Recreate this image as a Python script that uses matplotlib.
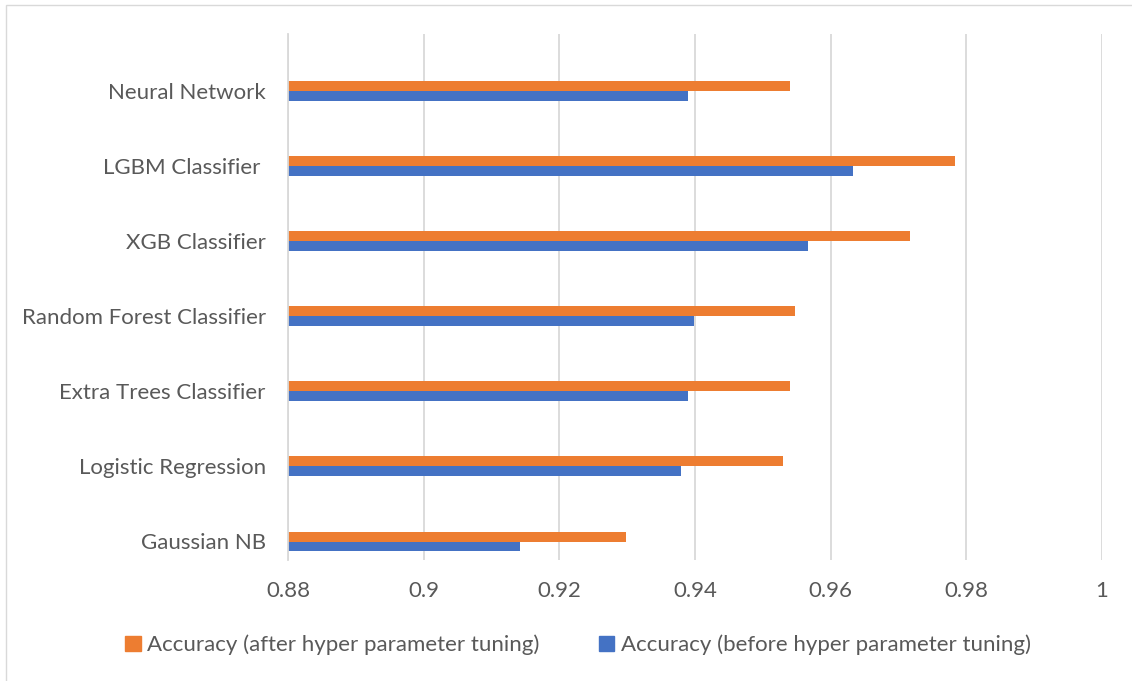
import numpy as np
import matplotlib
matplotlib.use("Agg")
import matplotlib.pyplot as plt
from matplotlib.patches import Rectangle, Patch

# model names, bottom to top as drawn
models = ["Gaussian NB", "Logistic Regression", "Extra Trees Classifier",
          "Random Forest Classifier", "XGB Classifier", "LGBM Classifier ",
          "Neural Network"]
acc_before = [0.9142, 0.9380, 0.9390, 0.9399, 0.9567, 0.9633, 0.9390]
acc_after = [0.9298, 0.9530, 0.9540, 0.9548, 0.9717, 0.9783, 0.9540]
xticks = [0.88, 0.9, 0.92, 0.94, 0.96, 0.98, 1.0]
xtick_labels = ["0.88", "0.9", "0.92", "0.94", "0.96", "0.98", "1"]

orange = "#ed7d31"
blue = "#4472c4"
txt = "#595959"
grid = "#d9d9d9"

plt.rcParams["font.family"] = ["Lato", "DejaVu Sans"]

fig = plt.figure(figsize=(11.32, 6.81), dpi=100)
ax = fig.add_axes([288 / 1132, 1 - 560 / 681, (1102 - 288) / 1132, (560 - 34) / 681])

y = np.arange(len(models))
h = 0.132
ax.barh(y - 0.32, acc_before, height=h, left=0, color=blue, zorder=3)
ax.barh(y - 0.32 + h, acc_after, height=h, left=0, color=orange, zorder=3)

ax.set_xlim(0.88, 1.0)
ax.set_ylim(-0.5, len(models) - 0.5)
ax.set_xticks(xticks)
ax.set_xticklabels(xtick_labels)
ax.set_yticks(y - 0.253)
ax.set_yticklabels(models)
ax.tick_params(axis="both", length=0, labelsize=16, colors=txt)
ax.tick_params(axis="x", pad=15)
ax.tick_params(axis="y", pad=16)

ax.grid(axis="x", color=grid, linewidth=1.3, zorder=0)
for s in ["top", "right", "bottom"]:
    ax.spines[s].set_visible(False)
ax.spines["left"].set_color(grid)
ax.spines["left"].set_linewidth(1.3)
ax.spines["left"].set_zorder(4)

handles = [Patch(color=orange, label="Accuracy (after hyper parameter tuning)"),
           Patch(color=blue, label="Accuracy (before hyper parameter tuning)")]
fig.legend(handles=handles, loc="center", bbox_to_anchor=(578 / 1132, 1 - 645 / 681),
           ncol=2, frameon=False, fontsize=16, labelcolor=txt,
           handlelength=0.7, handleheight=0.7, handletextpad=0.3,
           columnspacing=2.65)

# thin outer border of the chart area
fig.patches.append(Rectangle((6 / 1132, -0.1), 1.2, 1 - 5 / 681 + 0.1,
                             transform=fig.transFigure, fill=False,
                             edgecolor="#d9d9d9", linewidth=1))

fig.savefig("out.png", dpi=100, facecolor="white")
